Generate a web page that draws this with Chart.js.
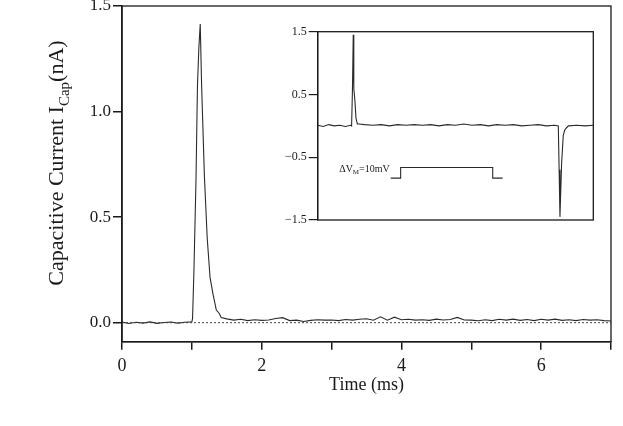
<!DOCTYPE html>
<html>
<head>
<meta charset="utf-8">
<script src="https://cdn.jsdelivr.net/npm/chart.js@4.4.0/dist/chart.umd.min.js"></script>
<style>
  body { margin: 0; background: #fff; }
  #wrap { position: relative; width: 623px; height: 426px; }
  #inset { position: absolute; left: 270px; top: 20px; }
</style>
</head>
<body>
<div id="wrap">
  <canvas id="chartMain" width="623" height="426"></canvas>
  <canvas id="inset" width="340" height="212"></canvas>
</div>
<script>
// ==========================
//  DATOS
// ==========================
const mainTime = [
  0.0, 0.1, 0.2, 0.3, 0.4, 0.5, 0.6, 0.7, 0.8, 0.9, 1.0,
  1.01, 1.03, 1.06, 1.08, 1.10, 1.12, 1.14, 1.18, 1.22, 1.26, 1.30, 1.35, 1.39, 1.42,
  1.5, 1.6, 1.7, 1.8, 1.9, 2.0, 2.1, 2.2, 2.3, 2.4, 2.5, 2.6, 2.7, 2.8, 2.9,
  3.0, 3.1, 3.2, 3.3, 3.4, 3.5, 3.6, 3.7, 3.8, 3.9, 4.0, 4.1, 4.2, 4.3, 4.4,
  4.5, 4.6, 4.7, 4.8, 4.9, 5.0, 5.1, 5.2, 5.3, 5.4, 5.5, 5.6, 5.7, 5.8, 5.9,
  6.0, 6.1, 6.2, 6.3, 6.4, 6.5, 6.6, 6.7, 6.8, 6.9, 7.0
];
const mainCurrent = [
  0.003, -0.004, 0.002, -0.002, 0.004, -0.003, 0.001, 0.003, -0.002, 0.002, 0.004,
  0.02, 0.25, 0.69, 1.12, 1.30, 1.415, 1.12, 0.69, 0.40, 0.216, 0.14, 0.06, 0.045, 0.025,
  0.018, 0.012, 0.016, 0.010, 0.014, 0.011, 0.013, 0.020, 0.024, 0.010, 0.012, 0.006, 0.011, 0.014, 0.012,
  0.013, 0.010, 0.015, 0.012, 0.016, 0.019, 0.012, 0.028, 0.012, 0.026, 0.014, 0.016, 0.012, 0.014, 0.011,
  0.017, 0.013, 0.015, 0.025, 0.013, 0.012, 0.009, 0.014, 0.010, 0.016, 0.012, 0.017, 0.011, 0.015, 0.010,
  0.016, 0.012, 0.017, 0.011, 0.014, 0.010, 0.015, 0.012, 0.014, 0.010, 0.008
];
const zeroTime = [0, 7];
const zeroLevel = [0, 0];
const mainYTicks = [0, 0.5, 1.0, 1.5];

// inset (unidades arbitrarias de tiempo, 0..100)
const insetTime = [
  0, 2, 4, 6, 8, 10, 12, 12.3, 12.6, 12.9, 13.1, 13.5, 13.9, 14.4, 15,
  17, 20, 23, 26, 29, 32, 35, 38, 41, 44, 47, 50, 53, 56, 59, 62, 65, 68, 71, 74, 77, 80, 83, 86,
  87.3, 87.6, 87.9, 88.5, 89.1, 89.6, 90.3, 91, 94, 97, 100
];
const insetCurrent = [
  0.01, -0.01, 0.02, 0.0, 0.01, -0.01, 0.01, 0.0, 0.55, 1.45, 0.6, 0.4, 0.12, 0.03, 0.03,
  0.02, 0.01, 0.02, 0.0, 0.02, 0.01, 0.02, 0.01, 0.02, 0.0, 0.02, 0.01, 0.03, 0.01, 0.02, 0.0, 0.02, 0.01, 0.02, 0.0, 0.01, 0.02, 0.0, 0.01,
  0.0, -0.7, -1.45, -0.6, -0.15, -0.07, -0.03, 0.0, 0.01, 0.0, 0.01
];
const stepTime = [26.5, 30.1, 30.1, 63.5, 63.5, 67.1];
const stepLevel = [-0.833, -0.833, -0.664, -0.664, -0.833, -0.833];
const insetYTicks = [-1.5, -0.5, 0.5, 1.5];

const SERIF = '"Liberation Serif", "Times New Roman", serif';
const INK = '#1a1a1a';

const toPoints = (xs, ys) => xs.map((x, i) => ({ x: x, y: ys[i] }));

// ==========================
//  PLUGINS
// ==========================
const frame = {
  id: 'frame',
  afterDraw(chart) {
    const a = chart.chartArea, ctx = chart.ctx;
    ctx.save();
    ctx.strokeStyle = INK;
    ctx.lineWidth = 1.3;
    ctx.strokeRect(a.left, a.top, a.right - a.left, a.bottom - a.top);
    ctx.restore();
  }
};

function drawSubText(ctx, parts, x, y, align) {
  let total = 0;
  parts.forEach(p => { ctx.font = p.font; total += ctx.measureText(p.text).width; });
  let cx = align === 'right' ? x - total : x - total / 2;
  parts.forEach(p => {
    ctx.font = p.font;
    ctx.fillText(p.text, cx, y + p.dy);
    cx += ctx.measureText(p.text).width;
  });
}

const yTitle = {
  id: 'yTitle',
  afterDraw(chart) {
    const ctx = chart.ctx;
    ctx.save();
    ctx.fillStyle = INK;
    ctx.textBaseline = 'alphabetic';
    ctx.translate(63, 163);
    ctx.rotate(-Math.PI / 2);
    drawSubText(ctx, [
      { text: 'Capacitive Current I', font: '22px ' + SERIF, dy: 0 },
      { text: 'Cap', font: '15px ' + SERIF, dy: 6 },
      { text: '(nA)', font: '22px ' + SERIF, dy: 0 }
    ], 0, 0, 'center');
    ctx.restore();
  }
};

const stepLabel = {
  id: 'stepLabel',
  afterDraw(chart) {
    const ctx = chart.ctx, sx = chart.scales.x, sy = chart.scales.y;
    ctx.save();
    ctx.fillStyle = INK;
    ctx.textBaseline = 'alphabetic';
    const x = sx.getPixelForValue(stepTime[0]) - 1;
    const y = sy.getPixelForValue(-0.74);
    drawSubText(ctx, [
      { text: 'ΔV', font: '10px ' + SERIF, dy: 0 },
      { text: 'M', font: '7px ' + SERIF, dy: 2 },
      { text: '=10mV', font: '10px ' + SERIF, dy: 0 }
    ], x, y, 'right');
    ctx.restore();
  }
};

// ==========================
//  GRAFICO PRINCIPAL
// ==========================
const chartMain = new Chart(document.getElementById('chartMain'), {
  type: 'line',
  data: {
    datasets: [{
      data: toPoints(zeroTime, zeroLevel),
      borderColor: '#444',
      borderWidth: 1,
      borderDash: [2, 2],
      pointRadius: 0
    }, {
      data: toPoints(mainTime, mainCurrent),
      borderColor: '#2a2a2a',
      borderWidth: 1.1,
      pointRadius: 0,
      tension: 0
    }]
  },
  options: {
    responsive: false,
    animation: false,
    devicePixelRatio: 1,
    layout: { padding: { top: 6, right: 12, left: 0, bottom: 0 } },
    plugins: { legend: { display: false }, tooltip: { enabled: false } },
    scales: {
      x: {
        type: 'linear', min: 0, max: 7,
        border: { color: INK, width: 1.5 },
        grid: { drawOnChartArea: false, tickLength: 8, color: INK, lineWidth: 1.5 },
        ticks: {
          stepSize: 1, autoSkip: false, maxRotation: 0, padding: 6, color: INK,
          font: { family: SERIF, size: 18 },
          callback: v => (v % 2 === 0 ? String(v) : '')
        },
        title: { display: true, text: 'Time (ms)', color: INK, font: { family: SERIF, size: 18 }, padding: { top: 0, bottom: 30 } },
        afterFit: s => { s.height = 84.3; s.paddingLeft = 0; s.paddingRight = 0; }
      },
      y: {
        min: -0.09, max: 1.5,
        border: { color: INK, width: 1.5 },
        grid: { drawOnChartArea: false, tickLength: 9, color: INK, lineWidth: 1.5 },
        afterBuildTicks: s => { s.ticks = mainYTicks.map(v => ({ value: v })); },
        ticks: { padding: 2, color: INK, font: { family: SERIF, size: 17 }, callback: v => v.toFixed(1) },
        afterFit: s => { s.width = 122; s.paddingTop = 0; s.paddingBottom = 0; }
      }
    }
  },
  plugins: [frame, yTitle]
});

// ==========================
//  INSET
// ==========================
const chartInset = new Chart(document.getElementById('inset'), {
  type: 'line',
  data: {
    datasets: [{
      data: toPoints(insetTime, insetCurrent),
      borderColor: '#2a2a2a',
      borderWidth: 1.1,
      pointRadius: 0
    }, {
      data: toPoints(stepTime, stepLevel),
      borderColor: '#2a2a2a',
      borderWidth: 1.1,
      pointRadius: 0
    }]
  },
  options: {
    responsive: false,
    animation: false,
    devicePixelRatio: 1,
    layout: { padding: { top: 11.7, right: 16.7, left: 0, bottom: 12 } },
    plugins: { legend: { display: false }, tooltip: { enabled: false } },
    scales: {
      x: { type: 'linear', min: 0, max: 100, display: false },
      y: {
        min: -1.5, max: 1.5,
        border: { color: INK, width: 1.3 },
        grid: { drawOnChartArea: false, tickLength: 9, color: INK, lineWidth: 1.2 },
        afterBuildTicks: s => { s.ticks = insetYTicks.map(v => ({ value: v })); },
        ticks: {
          padding: 2, color: INK, font: { family: SERIF, size: 12 },
          callback: v => (v < 0 ? '\u2212' : '') + Math.abs(v).toFixed(1)
        },
        afterFit: s => { s.width = 47.7; s.paddingTop = 0; s.paddingBottom = 0; }
      }
    }
  },
  plugins: [frame, stepLabel]
});
</script>
</body>
</html>
